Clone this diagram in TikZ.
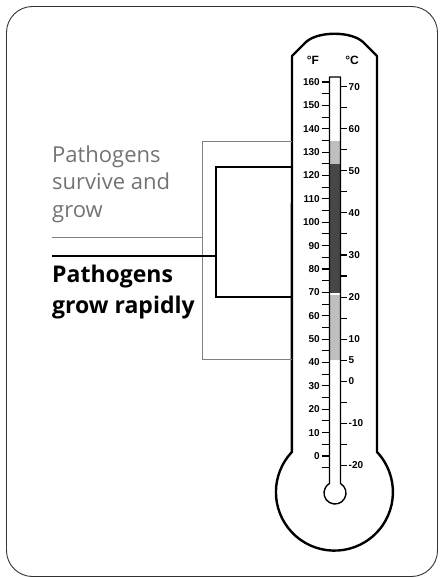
\documentclass[tikz,border=0pt]{standalone}
\usepackage{fontspec}
\newfontfamily\pathofont{Open Sans}
\newfontfamily\scalenumfont{Liberation Sans}
\tikzstyle{frame}=[draw=black!80, line width=0.9pt, rounded corners=26pt]
\tikzstyle{glass}=[draw=black, line width=2.4pt, line join=round]
\tikzstyle{bore}=[draw=black, line width=1.4pt, line join=round]
\tikzstyle{warm}=[fill=black!25]
\tikzstyle{hot}=[fill=black!72]
\tikzstyle{scaletick}=[line width=1.1pt]
\tikzstyle{degF}=[anchor=east, inner sep=0.5pt, font=\scalenumfont\bfseries\fontsize{10}{12}\selectfont]
\tikzstyle{degC}=[anchor=west, inner sep=0.5pt, font=\scalenumfont\bfseries\fontsize{10}{12}\selectfont]
\tikzstyle{unit}=[inner sep=0pt, font=\scalenumfont\bfseries\fontsize{12}{14}\selectfont]
\tikzstyle{survive}=[draw=black!50, line width=0.8pt]
\tikzstyle{rapid}=[draw=black, line width=1.3pt]
\tikzstyle{survivetext}=[anchor=base west, align=left, inner sep=0pt, text=black!55, font=\pathofont\fontsize{22}{27.5}\selectfont]
\tikzstyle{rapidtext}=[anchor=base west, align=left, inner sep=0pt, text=black, font=\pathofont\bfseries\fontsize{23}{31}\selectfont]

\begin{document}
\begin{tikzpicture}[x=1pt, y=-1pt]
	\useasboundingbox (0,0) rectangle (439,578);
	% Frame
	\draw[frame] (6.5,6.5) rectangle (437.5,576.5);

	% Mercury column
	\fill[warm] (329.5,140.5) rectangle (340.5,164);
	\fill[hot] (329.5,164) rectangle (340.5,292.5);
	\fill[warm] (329.5,294.5) rectangle (340.5,360);

	% Body and bore of the thermometer
	\draw[glass] (377,452) arc[start angle=-43.3, end angle=223.3, radius=58.5]
		-- (292,56) -- (306,42) .. controls (318,31) and (351,31) .. (363,42) -- (377,56) -- cycle;
	\draw[bore] (340.5,483.5) arc[start angle=-60, end angle=240, radius=11]
		-- (329.5,77) -- (340.5,77) -- cycle;

	% Scales
	\node[unit] (unitF) at (313,60) {°F};
	\node[unit] (unitC) at (352,60) {°C};
	\foreach \f in {-5,0,...,160}{ \draw[scaletick] (321.5,{456-2.3375*\f}) -- (329.5,{456-2.3375*\f}); }
	\foreach \f in {0,10,...,160}{ \node[degF] (f\f) at (320.5,{456-2.3375*\f}) {\f}; }
	\foreach \c in {-20,-15,...,70}{ \draw[scaletick] (340.5,{456-2.3375*(1.8*\c+32)}) -- (347,{456-2.3375*(1.8*\c+32)}); }
	\foreach \c in {-20,-10,0,5,10,20,30,40,50,60,70}{ \node[degC] (c\c) at (348,{456-2.3375*(1.8*\c+32)}) {\c}; }

	% Pathogens survive and grow
	\coordinate (s1) at (292,141);
	\coordinate (s2) at (202,141);
	\coordinate (s3) at (202,359);
	\coordinate (s4) at (292,359);
	\coordinate (s5) at (202,237);
	\coordinate (s6) at (52,237);
	\draw[survive] (s1) -- (s2) -- (s3) -- (s4);
	\draw[survive] (s6) -- (s5);
	\node[survivetext] (survive) at (52,217) {Pathogens\\survive and\\grow};

	% Pathogens grow rapidly
	\coordinate (r1) at (292,167);
	\coordinate (r2) at (216,167);
	\coordinate (r3) at (216,297);
	\coordinate (r4) at (292,297);
	\coordinate (r5) at (216,256);
	\coordinate (r6) at (52,256);
	\draw[rapid] (r1) -- (r2) -- (r3) -- (r4);
	\draw[rapid] (r6) -- (r5);
	\node[rapidtext] (rapid) at (52,313) {Pathogens\\grow rapidly};
\end{tikzpicture}
\end{document}
